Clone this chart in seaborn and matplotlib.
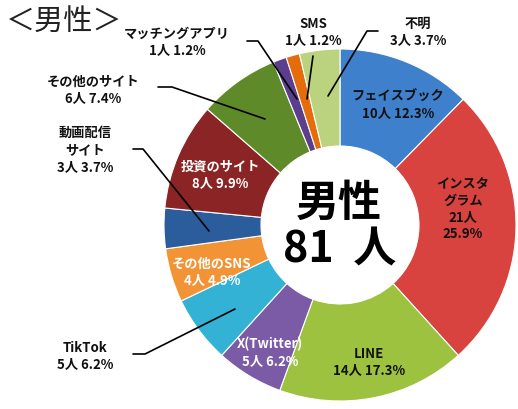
import matplotlib
matplotlib.use("Agg")
import matplotlib.pyplot as plt
import seaborn as sns

# DATA (clockwise from 12 o'clock)
names = ["フェイスブック", "インスタ\nグラム", "LINE", "X(Twitter)", "TikTok", "その他のSNS",
         "動画配信\nサイト", "投資のサイト", "その他のサイト", "マッチングアプリ", "SMS", "不明"]
counts = [10, 21, 14, 5, 5, 4, 3, 8, 6, 1, 1, 3]
colors = ["#3E80CC", "#D8423F", "#9DC23F", "#7B5AA6", "#33B2D6", "#F29436",
          "#2B5C9C", "#8B2424", "#5F8A2A", "#5B3E8C", "#E46C0A", "#BBD37E"]
total = sum(counts)

sns.set_theme(style="white")
plt.rcParams["font.family"] = ["Noto Sans CJK JP", "DejaVu Sans"]

fig = plt.figure(figsize=(5.18, 4.10), dpi=100)
ax = fig.add_axes([0, 0, 1, 1])

# donut; y axis inverted so counterclock=True draws clockwise on screen
ax.pie(counts, colors=colors, startangle=-90, counterclock=True,
       center=(340, 226), radius=176, frame=True,
       wedgeprops=dict(width=97, edgecolor="white", linewidth=0.8))
ax.set_xlim(0, 518)
ax.set_ylim(410, 0)  # pixel-like coords, y down
ax.axis("off")

# label layout: position (x, y), text colour
layout = {
    "フェイスブック": ((398, 105), "#111111"),
    "インスタ\nグラム": ((463, 209), "#111111"),
    "LINE": ((369, 362), "#111111"),
    "X(Twitter)": ((270, 352), "white"),
    "その他のSNS": ((212, 272), "white"),
    "投資のサイト": ((220, 175), "white"),
    "TikTok": ((85, 356), "#111111"),
    "動画配信\nサイト": ((85, 150), "#111111"),
    "その他のサイト": ((93, 90), "#111111"),
    "マッチングアプリ": ((177, 42), "#111111"),
    "SMS": ((313, 32), "#111111"),
    "不明": ((418, 32), "#111111"),
}
for name, n in zip(names, counts):
    (x, y), col = layout[name]
    pct = n / total * 100
    if name.startswith("インスタ"):
        tail = f"{n}人\n{pct:.1f}%"
    else:
        tail = f"{n}人 {pct:.1f}%"
    ax.text(x, y, f"{name}\n{tail}", ha="center", va="center", fontsize=9.5,
            fontweight="bold", color=col, linespacing=1.25)

# leader lines for the outside labels
leaders = [
    [(247, 42), (258, 42), (297, 100)],
    [(313, 57), (307, 100)],
    [(378, 32), (367, 32), (328, 97)],
    [(158, 88), (172, 88), (265, 120)],
    [(133, 150), (143, 150), (209, 232)],
    [(133, 355), (145, 355), (235, 310)],
]
for pts in leaders:
    xs, ys = zip(*pts)
    ax.plot(xs, ys, color="black", lw=1.2)

# centre text and title
ax.text(339, 203, "男性", ha="center", va="center", fontsize=31,
        fontweight="bold", color="black")
ax.text(340, 250, "81  人", ha="center", va="center", fontsize=31,
        fontweight="bold", color="black")
ax.text(6, 22, "＜男性＞", ha="left", va="center", fontsize=21, color="#222222")

fig.savefig("out.png", dpi=100)
